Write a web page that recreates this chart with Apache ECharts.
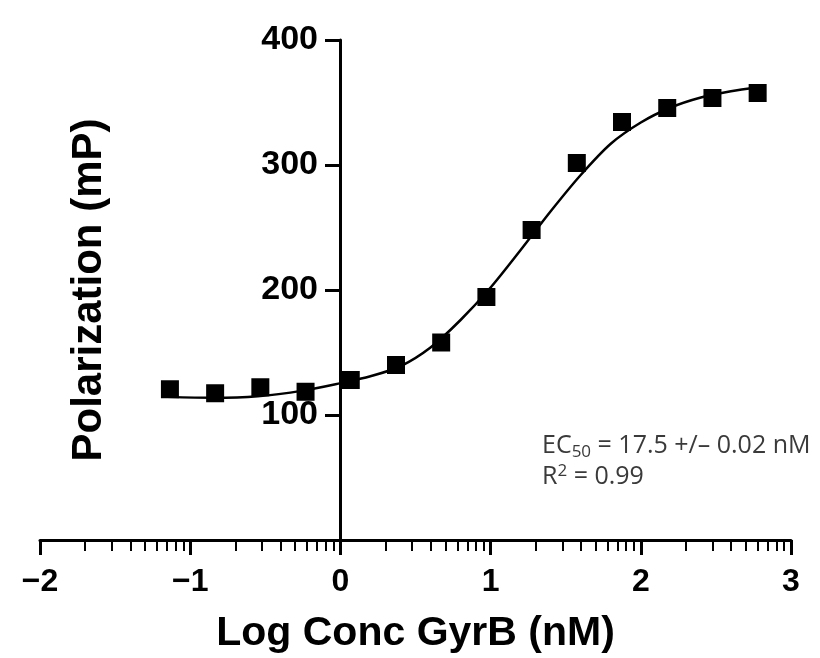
<!DOCTYPE html>
<html>
<head>
<meta charset="utf-8">
<script src="https://cdn.jsdelivr.net/npm/echarts@6/dist/echarts.min.js"></script>
<style>
html,body{margin:0;padding:0;background:#fff;}
#chart{width:820px;height:658px;}
</style>
</head>
<body>
<div id="chart"></div>
<script>
// Measured data points (log10 concentration in nM, polarization in mP)
var pointX = [-1.135, -0.834, -0.533, -0.232, 0.069, 0.370, 0.671, 0.972, 1.273, 1.574, 1.875, 2.176, 2.477, 2.778];
var pointY = [120.6, 117.4, 122.2, 118.6, 128, 140, 158, 194.4, 248, 301.6, 334.4, 345.6, 353.6, 357.6];

// Fitted curve
var curveX = [-1.15, -0.85, -0.55, -0.25, 0, 0.2, 0.4, 0.6, 0.8, 1.0, 1.2, 1.4, 1.6, 1.8, 2.0, 2.2, 2.4, 2.6, 2.78];
var curveY = [114.5, 113.8, 115, 119.5, 125.5, 131, 139, 154, 176, 202, 232, 263, 292, 317, 334, 346, 354, 359, 362];

// Axis ticks
var xTicks = [-2, -1, 0, 1, 2, 3];
var xTickLabels = ['\u22122', '\u22121', '0', '1', '2', '3'];
var yTicks = [100, 200, 300, 400];
var yTickLabels = ['100', '200', '300', '400'];

var minorTicks = [];
for (var d = -2; d < 3; d++) {
  for (var k = 2; k <= 9; k++) minorTicks.push(d + Math.log10(k));
}

var points = pointX.map(function (x, i) { return [x, pointY[i]]; });
var curve = curveX.map(function (x, i) { return [x, curveY[i]]; });

var chart = echarts.init(document.getElementById('chart'), null, {renderer: 'canvas'});
var boldFont = '"Liberation Sans", Arial, Helvetica, sans-serif';
var noteFont = '"Open Sans", "Liberation Sans", sans-serif';

chart.setOption({
  animation: false,
  backgroundColor: '#ffffff',
  grid: {left: 40, right: 29, top: 40, bottom: 118, containLabel: false, outerBoundsMode: 'none'},
  title: {
    left: 537, top: 425,
    text: '{t|EC}{s|50}{t| = 17.5 +/\u2013 0.02 nM}\n{t|R}{p|2}{t| = 0.99}',
    textStyle: {
      fontWeight: 'normal',
      rich: {
        t: {fontFamily: noteFont, fontWeight: 'normal', fontSize: 25, color: '#3a3a3a', lineHeight: 31},
        s: {fontFamily: noteFont, fontWeight: 'normal', fontSize: 17, color: '#3a3a3a', lineHeight: 31, padding: [13, 0, 0, 0]},
        p: {fontFamily: noteFont, fontWeight: 'normal', fontSize: 17, color: '#3a3a3a', lineHeight: 31, padding: [0, 0, 10, 0]}
      }
    }
  },
  xAxis: [{
    type: 'value', min: -2, max: 3, interval: 1,
    axisLine: {show: true, onZero: false, lineStyle: {color: '#000', width: 3}},
    axisTick: {show: true, length: 15, lineStyle: {color: '#000', width: 3}},
    splitLine: {show: false},
    axisLabel: {
      margin: 26, color: '#000', fontSize: 32, fontWeight: 'bold', fontFamily: boldFont,
      formatter: function (v) { var i = xTicks.indexOf(v); return i >= 0 ? xTickLabels[i] : ''; }
    },
    name: 'Log Conc GyrB (nM)', nameLocation: 'middle', nameGap: 73,
    nameTextStyle: {color: '#000', fontSize: 41, fontWeight: 'bold', fontFamily: boldFont}
  }, {
    type: 'value', min: -2, max: 3, position: 'bottom',
    axisLine: {show: false, onZero: false},
    axisTick: {show: true, length: 11, customValues: minorTicks, lineStyle: {color: '#000', width: 2}},
    axisLabel: {show: false},
    splitLine: {show: false}
  }],
  yAxis: {
    type: 'value', min: 0, max: 400, interval: 100, position: 'left', offset: -300,
    axisLine: {show: true, onZero: false, lineStyle: {color: '#000', width: 3}},
    axisTick: {show: true, length: 15, lineStyle: {color: '#000', width: 3}},
    splitLine: {show: false},
    axisLabel: {
      margin: 22, color: '#000', fontSize: 34, fontWeight: 'bold', fontFamily: boldFont,
      formatter: function (v) { var i = yTicks.indexOf(v); return i >= 0 ? yTickLabels[i] : ''; }
    },
    name: 'Polarization (mP)', nameLocation: 'middle', nameGap: 230,
    nameTextStyle: {color: '#000', fontSize: 42, fontWeight: 'bold', fontFamily: boldFont}
  },
  series: [{
    type: 'line', xAxisIndex: 0, data: curve, smooth: 0.3, showSymbol: false, symbol: 'none',
    lineStyle: {color: '#000', width: 2.5}, z: 2
  }, {
    type: 'scatter', xAxisIndex: 0, data: points, symbol: 'rect', symbolSize: 18,
    itemStyle: {color: '#000', opacity: 1}, z: 3
  }]
});
</script>
</body>
</html>
